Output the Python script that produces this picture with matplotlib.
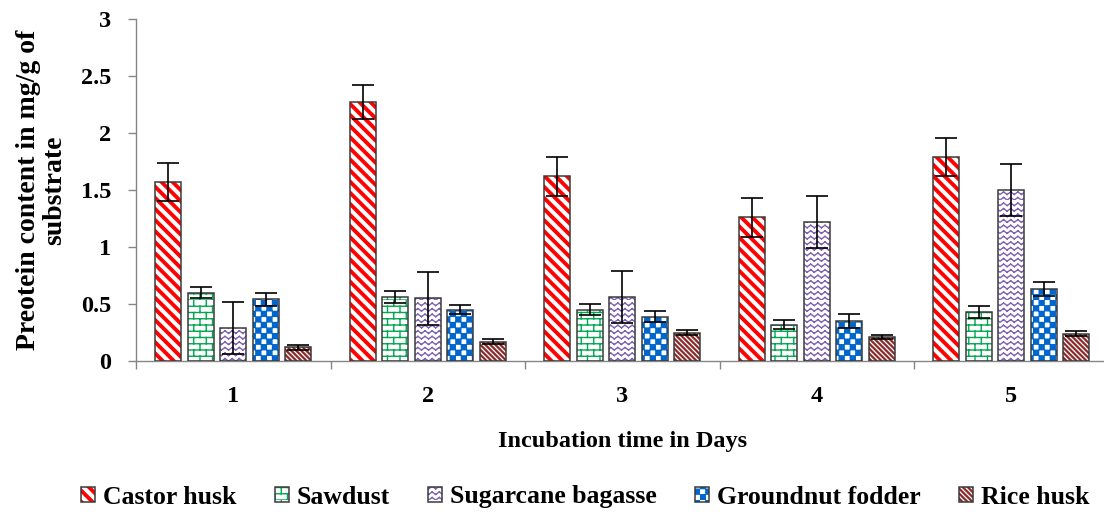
import warnings
import numpy as np
import matplotlib
matplotlib.use('Agg')
import matplotlib.pyplot as plt
import matplotlib.hatch as mhatch
from matplotlib.path import Path

warnings.filterwarnings('ignore', message='hatch must consist')

# data
days = ['1', '2', '3', '4', '5']
substrates = ['Castor husk', 'Sawdust', 'Sugarcane bagasse', 'Groundnut fodder', 'Rice husk']
castor = [1.57, 2.27, 1.62, 1.26, 1.79]
castor_err = [0.165, 0.15, 0.17, 0.17, 0.165]
sawdust = [0.60, 0.56, 0.45, 0.32, 0.43]
sawdust_err = [0.05, 0.05, 0.05, 0.04, 0.05]
sugarcane = [0.29, 0.55, 0.56, 1.22, 1.50]
sugarcane_err = [0.23, 0.23, 0.23, 0.23, 0.23]
groundnut = [0.54, 0.45, 0.39, 0.35, 0.63]
groundnut_err = [0.06, 0.04, 0.05, 0.06, 0.06]
rice = [0.12, 0.17, 0.25, 0.21, 0.24]
rice_err = [0.02, 0.02, 0.02, 0.02, 0.02]
ytick_labels = ['0', '0.5', '1', '1.5', '2', '2.5', '3']

values = [castor, sawdust, sugarcane, groundnut, rice]
errors = [castor_err, sawdust_err, sugarcane_err, groundnut_err, rice_err]
colors = ['#ff0000', '#00a84f', '#7f62b0', '#0066cc', '#8b2a28']
patterns = ['S', 'B', 'Z', 'C', 'R']


# texture hatches (excel style fills), built in the 1x1 hatch tile
def stripes(n, w):
    return [[(0, k / n), (0, k / n + w), (1, k / n + w - 1), (1, k / n - 1)]
            for k in range(-1, 2 * n + 1)]


def thick_stripes():
    return stripes(9, 0.035), []


def thin_stripes():
    return stripes(20, 0.012), []


def bricks():
    rows, cols = 16, 8
    segs = []
    for i in range(rows):
        y0, y1 = i / rows, (i + 1) / rows
        segs.append([(0, y0), (1, y0)])
        shift = 0.5 / cols if i % 2 else 0
        for j in range(cols + 1):
            segs.append([(j / cols + shift, y0), (j / cols + shift, y1)])
    return [], segs


def zigzag():
    rows, per = 18, 14
    a = 0.45 / rows
    segs = []
    for i in range(rows):
        y0 = i / rows
        for j in range(per):
            segs.append([(j / per, y0), ((j + 0.5) / per, y0 + a)])
            segs.append([((j + 0.5) / per, y0 + a), ((j + 1) / per, y0)])
    return [], segs


def checker():
    n, d = 18, 0.003
    polys = []
    for i in range(n):
        for j in range(n):
            if (i + j) % 2 == 0:
                x0, y0, x1, y1 = j / n + d, i / n + d, (j + 1) / n - d, (i + 1) / n - d
                polys.append([(x0, y0), (x1, y0), (x1, y1), (x0, y1)])
    return polys, []


TEXTURES = {'S': thick_stripes, 'R': thin_stripes, 'B': bricks, 'Z': zigzag, 'C': checker}


class TextureHatch(mhatch.HatchPatternBase):
    def __init__(self, hatch, density):
        verts, codes = [], []
        for ch, make in TEXTURES.items():
            if ch not in hatch:
                continue
            polys, segs = make()
            for p in polys:
                verts += p + [p[0]]
                codes += [Path.MOVETO] + [Path.LINETO] * (len(p) - 1) + [Path.CLOSEPOLY]
            for s in segs:
                verts += s
                codes += [Path.MOVETO, Path.LINETO]
        self.verts = np.array(verts, float).reshape(-1, 2)
        self.codes = np.array(codes, dtype=Path.code_type)
        self.num_vertices = len(self.verts)

    def set_vertices_and_codes(self, vertices, codes):
        vertices[:] = self.verts
        codes[:] = self.codes


mhatch._hatch_types.append(TextureHatch)

plt.rcParams['font.family'] = 'Liberation Serif'
plt.rcParams['font.weight'] = 'bold'
plt.rcParams['axes.labelweight'] = 'bold'
plt.rcParams['hatch.linewidth'] = 1.0

fig = plt.figure(figsize=(11.04, 5.15), dpi=100)
ax = fig.add_axes([136 / 1104, 154 / 515, 972.5 / 1104, 342 / 515])

x = np.arange(len(days))
step, width = 0.167, 0.135
handles = []
for i in range(len(substrates)):
    pos = x + (i - 2) * step
    h1 = ax.bar(pos, values[i], width, color='white', edgecolor=colors[i],
                linewidth=0, hatch=patterns[i], zorder=2)
    h2 = ax.bar(pos, values[i], width, fill=False, edgecolor='#3a3a3a', linewidth=1.1,
                yerr=errors[i], capsize=8,
                error_kw=dict(elinewidth=1.2, capthick=1.2, ecolor='black', zorder=4),
                zorder=3)
    handles.append((h1[0], h2[0]))

ax.set_xlim(-0.5, 4.5)
ax.set_ylim(0, 3)
ax.set_yticks(np.arange(0, 3.01, 0.5))
ax.set_yticklabels(ytick_labels)
ax.set_xticks(x)
ax.set_xticklabels(days)
ax.set_xticks(np.arange(-0.5, 4.6, 1), minor=True)

for s in ['top', 'right']:
    ax.spines[s].set_visible(False)
for s in ['left', 'bottom']:
    ax.spines[s].set_color('#868686')
    ax.spines[s].set_linewidth(1.0)

ax.tick_params(axis='y', length=6, width=1, color='#868686', pad=12, labelsize=17.5)
ax.tick_params(axis='x', which='major', length=0, pad=18, labelsize=17.5)
ax.tick_params(axis='x', which='minor', length=6, width=1, color='#868686')

ax.set_ylabel('Preotein content in mg/g of\nsubstrate', fontsize=20, labelpad=10,
              linespacing=1.05)
ax.set_xlabel('Incubation time in Days', fontsize=17.5, labelpad=17)

fig.legend(handles, substrates, loc='center', bbox_to_anchor=(0.53, 1 - 497 / 515),
           ncol=5, frameon=False, fontsize=18.5, handlelength=0.55, handleheight=0.55,
           handletextpad=0.3, columnspacing=1.5)

fig.savefig('out.png', dpi=100)
